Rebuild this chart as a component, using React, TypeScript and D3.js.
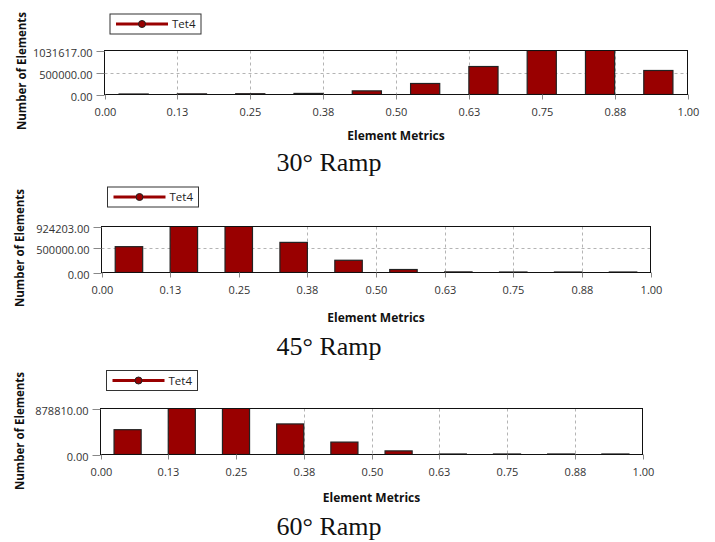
import { useEffect, useRef } from "react";
import * as d3 from "d3";

const BIN_CENTERS = [0.05, 0.15, 0.25, 0.35, 0.45, 0.55, 0.65, 0.75, 0.85, 0.95];
const RAMP_30 = [12000, 15000, 18000, 25000, 85000, 258000, 656000, 1031617, 1080000, 563000];
const RAMP_45 = [519000, 960000, 960000, 605000, 246000, 60000, 12000, 10000, 10000, 10000];
const RAMP_60 = [474000, 920000, 920000, 584000, 237000, 69000, 10000, 10000, 10000, 10000];
const Y_MAXES = [1031617, 924203, 878810];
const Y_MIDS = [500000, 500000, null];
const X_TICKS = [0, 0.125, 0.25, 0.375, 0.5, 0.625, 0.75, 0.875, 1];
const X_TICK_LABELS = ["0.00", "0.13", "0.25", "0.38", "0.50", "0.63", "0.75", "0.88", "1.00"];
const CAPTIONS = ["30° Ramp", "45° Ramp", "60° Ramp"];
const SERIES_NAME = "Tet4";

const RED = "#990000";
const FONT = "'Open Sans', 'Noto Sans', sans-serif";

// layout of each panel (plot rect, legend box, label anchors)
const PANELS = [
  { data: RAMP_30, l: 104.5, r: 687.5, t: 50.5, b: 94.5, lgX: 110, lgY: 14, yTitleX: 22, yTitleY: 71, xTitleY: 140, capY: 170.5 },
  { data: RAMP_45, l: 101.5, r: 650.5, t: 226.5, b: 272.5, lgX: 107.5, lgY: 187, yTitleX: 20, yTitleY: 248, xTitleY: 322, capY: 355 },
  { data: RAMP_60, l: 100.5, r: 642.5, t: 408.5, b: 454.5, lgX: 106.5, lgY: 370.5, yTitleX: 20, yTitleY: 431, xTitleY: 502, capY: 535 },
];

export default function App() {
  const ref = useRef<SVGSVGElement>(null);

  useEffect(() => {
    const svg = d3.select(ref.current);
    svg.selectAll("*").remove();

    PANELS.forEach((p, i) => {
      const x = d3.scaleLinear().domain([0, 1]).range([p.l, p.r]);
      const y = d3.scaleLinear().domain([0, Y_MAXES[i]]).range([p.b, p.t]);
      const g = svg.append("g");

      const clipId = `clip${i}`;
      g.append("clipPath").attr("id", clipId)
        .append("rect").attr("x", p.l).attr("y", p.t).attr("width", p.r - p.l).attr("height", p.b - p.t);

      // dashed grid
      X_TICKS.slice(1, -1).forEach((t) => {
        g.append("line")
          .attr("x1", Math.round(x(t)) + 0.5).attr("x2", Math.round(x(t)) + 0.5)
          .attr("y1", p.t).attr("y2", p.b)
          .attr("stroke", "#b4b4b4").attr("stroke-dasharray", "3,3");
      });
      const mid = Y_MIDS[i];
      if (mid != null) {
        g.append("line")
          .attr("x1", p.l).attr("x2", p.r)
          .attr("y1", Math.round(y(mid)) + 0.5).attr("y2", Math.round(y(mid)) + 0.5)
          .attr("stroke", "#b4b4b4").attr("stroke-dasharray", "3,3");
      }

      // bars
      g.append("g").attr("clip-path", `url(#${clipId})`)
        .selectAll("rect").data(p.data).join("rect")
        .attr("x", (_, j) => x(BIN_CENTERS[j] - 0.025))
        .attr("width", x(0.05) - x(0))
        .attr("y", (d) => y(d))
        .attr("height", (d) => p.b - y(d))
        .attr("fill", RED).attr("stroke", "#222").attr("stroke-width", 1.2);

      // frame
      g.append("rect")
        .attr("x", p.l).attr("y", p.t).attr("width", p.r - p.l).attr("height", p.b - p.t)
        .attr("fill", "none").attr("stroke", "#111").attr("stroke-width", 1);

      // x ticks
      X_TICKS.forEach((t, j) => {
        const xx = Math.round(x(t)) + 0.5;
        g.append("line").attr("x1", xx).attr("x2", xx).attr("y1", p.b).attr("y2", p.b + 5).attr("stroke", "#888");
        g.append("text").attr("x", xx).attr("y", p.b + 21)
          .attr("text-anchor", "middle").attr("font-family", FONT).attr("font-size", 11).attr("fill", "#333")
          .text(X_TICK_LABELS[j]);
      });

      // y ticks
      const yTicks = mid != null ? [0, mid, Y_MAXES[i]] : [0, Y_MAXES[i]];
      yTicks.forEach((t) => {
        const yy = Math.round(y(t)) + 0.5;
        g.append("line").attr("x1", p.l - 8).attr("x2", p.l).attr("y1", yy).attr("y2", yy).attr("stroke", "#888");
        g.append("text").attr("x", p.l - 12).attr("y", yy + 5)
          .attr("text-anchor", "end").attr("font-family", FONT).attr("font-size", 11).attr("fill", "#333")
          .text(t.toFixed(2));
      });

      // axis titles
      g.append("text")
        .attr("transform", `translate(${p.yTitleX + 4},${p.yTitleY}) rotate(-90)`)
        .attr("text-anchor", "middle").attr("font-family", FONT).attr("font-size", 11.5).attr("font-weight", 700).attr("fill", "#111")
        .text("Number of Elements");
      g.append("text")
        .attr("x", (p.l + p.r) / 2).attr("y", p.xTitleY)
        .attr("text-anchor", "middle").attr("font-family", FONT).attr("font-size", 12).attr("font-weight", 700).attr("fill", "#111")
        .text("Element Metrics");

      // legend
      const lg = g.append("g").attr("transform", `translate(${p.lgX},${p.lgY})`);
      lg.append("rect").attr("width", 91).attr("height", 20).attr("fill", "#fff").attr("stroke", "#333");
      lg.append("line").attr("x1", 6).attr("x2", 58).attr("y1", 10).attr("y2", 10).attr("stroke", RED).attr("stroke-width", 3);
      lg.append("circle").attr("cx", 32).attr("cy", 10).attr("r", 3.5).attr("fill", RED).attr("stroke", "#222");
      lg.append("text").attr("x", 62).attr("y", 14)
        .attr("font-family", FONT).attr("font-size", 11.5).attr("fill", "#222").text(SERIES_NAME);

      // caption
      svg.append("text")
        .attr("x", 329).attr("y", p.capY)
        .attr("text-anchor", "middle").attr("font-family", "'Liberation Serif', 'Times New Roman', serif")
        .attr("font-size", 26).attr("fill", "#111")
        .text(CAPTIONS[i]);
    });
  }, []);

  return (
    <svg ref={ref} width={715} height={542}
      style={{ position: "absolute", left: 0, top: 0, background: "#fff" }} />
  );
}
